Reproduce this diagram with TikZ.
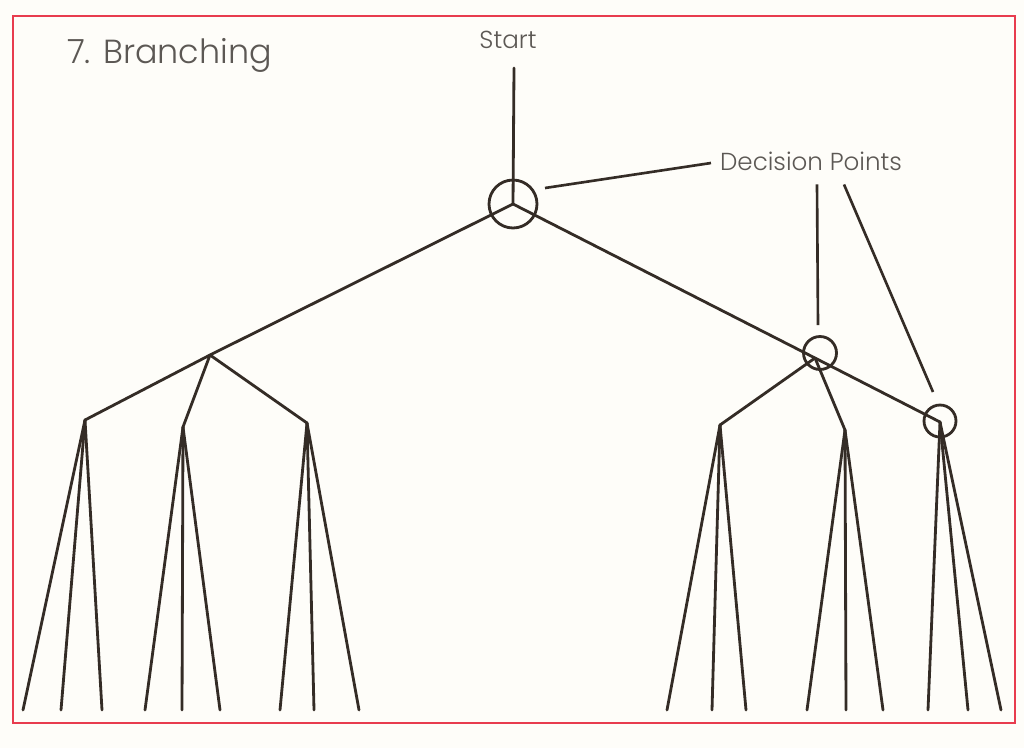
\documentclass[tikz,border=0pt]{standalone}
\usepackage{fontspec}
\setmainfont{Poppins}[UprightFont=* Light]
\usepackage{tikz}
\usetikzlibrary{positioning, calc}
\definecolor{branchink}{RGB}{52,44,38}
\definecolor{textgray}{RGB}{92,88,84}
\definecolor{frame}{RGB}{232,60,78}
\definecolor{paper}{RGB}{254,253,249}

\begin{document}
\begin{tikzpicture}[
    x=0.02cm, y=-0.02cm,
    branch/.style={draw=branchink, line width=1.6pt, line cap=round, line join=round},
    decision/.style={circle, draw=branchink, line width=1.6pt, inner sep=0pt},
    pointer/.style={draw=branchink, line width=1.5pt},
    tag/.style={text=textgray, font=\fontsize{14}{17}\selectfont, inner sep=1pt}
]
% Paper and frame
\fill[paper] (0,0) rectangle (1024,748);
\useasboundingbox (0,0) rectangle (1024,748);
\draw[frame, line width=1.2pt] (13,16) rectangle (1015,723);

% Title
\node[tag, anchor=west, font=\fontsize{19}{23}\selectfont] (title) at (65,55) {7. Branching};

% Start and decision points
\node[tag] (start) at (508,40) {Start};
\coordinate (top) at (514,68);
\node[decision, minimum size=0.96cm] (d1) at (513,204) {};
\node[decision, minimum size=0.66cm] (d2) at (820,353) {};
\node[decision, minimum size=0.64cm] (d3) at (940,421) {};
\coordinate (b2) at (815,358);
\coordinate (b3) at (940,422);
\coordinate (bl) at (210,355);

% Children
\coordinate (c1) at (85,420);
\coordinate (c2) at (183,427);
\coordinate (c3) at (307,423);
\coordinate (c4) at (720,425);
\coordinate (c5) at (845,430);

% Trunk and main branches
\draw[branch] (top) -- (d1.center);
\draw[branch] (d1.center) -- (bl);
\draw[branch] (d1.center) -- (b2) -- (b3);
\draw[branch] (bl) -- (c1);
\draw[branch] (bl) -- (c2);
\draw[branch] (bl) -- (c3);
\draw[branch] (b2) -- (c4);
\draw[branch] (b2) -- (c5);

% Leaves
\foreach \c/\la/\lb/\lc in {c1/23/61/102, c2/145/182/220, c3/280/314/359,
                            c4/667/712/746, c5/807/846/883, b3/928/968/1001}{
  \draw[branch] (\c) -- (\la,710);
  \draw[branch] (\c) -- (\lb,710);
  \draw[branch] (\c) -- (\lc,710);
}

% Label and pointers
\node[tag] (dp) at (811,161) {Decision Points};
\coordinate (p1) at (545,188);
\coordinate (p2) at (818,325);
\coordinate (p3) at (933,392);
\draw[pointer] ($(dp.west)+(-7,2)$) -- (p1);
\draw[pointer] ($(dp.south)+(6,12)$) -- (p2);
\draw[pointer] ($(dp.south)+(33,12)$) -- (p3);
\end{tikzpicture}
\end{document}
